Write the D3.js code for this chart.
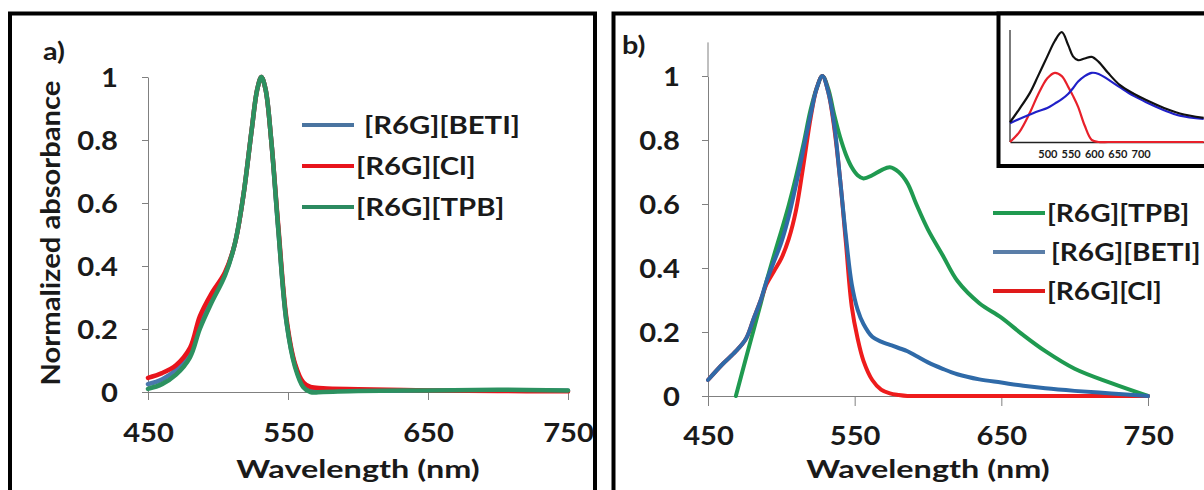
<!DOCTYPE html>
<html>
<head>
<meta charset="utf-8">
<script src="https://cdn.jsdelivr.net/npm/d3@7"></script>
<style>
  body { margin: 0; background: #fff; }
  svg { display: block; }
  text { font-family: Lato, "Open Sans", sans-serif; font-weight: 700; fill: #1a1a1a; }
</style>
</head>
<body>
<script>
// panel a: absorbance of the three salts (almost identical)
var waveA = [450, 460, 470, 480, 487, 495, 505, 512, 518, 524, 528, 531, 534, 538, 543, 549, 555, 561, 566, 575, 600, 650, 700, 750];
var betiA = [0.025, 0.04, 0.07, 0.125, 0.22, 0.295, 0.375, 0.47, 0.62, 0.83, 0.96, 1.0, 0.96, 0.8, 0.52, 0.22, 0.085, 0.02, 0.006, 0.004, 0.004, 0.004, 0.005, 0.004];
var clA   = [0.045, 0.06, 0.085, 0.14, 0.24, 0.31, 0.38, 0.47, 0.62, 0.83, 0.96, 1.0, 0.96, 0.8, 0.53, 0.23, 0.09, 0.03, 0.016, 0.012, 0.009, 0.005, 0.003, 0.002];
var tpbA  = [0.01, 0.025, 0.055, 0.11, 0.2, 0.28, 0.37, 0.47, 0.62, 0.83, 0.96, 1.0, 0.96, 0.8, 0.52, 0.22, 0.08, 0.015, 0.0, 0.0, 0.003, 0.005, 0.007, 0.005];

// panel b
var waveB = [450, 460, 469, 476, 481, 486, 490, 495, 500, 505, 510, 515, 520, 524, 528, 532, 536, 540, 544, 548, 552, 556, 562, 568, 574, 580, 586, 592, 600, 610, 620, 635, 650, 665, 680, 700, 725, 750];
var tpbB  = [null, null, 0.0, 0.12, 0.205, 0.29, 0.36, 0.44, 0.515, 0.595, 0.685, 0.785, 0.895, 0.96, 1.0, 0.96, 0.88, 0.81, 0.755, 0.715, 0.69, 0.68, 0.69, 0.705, 0.715, 0.7, 0.665, 0.6, 0.52, 0.44, 0.36, 0.29, 0.245, 0.19, 0.14, 0.085, 0.04, 0.0];
var betiB = [0.05, 0.1, 0.14, 0.18, 0.24, 0.3, 0.36, 0.42, 0.48, 0.56, 0.66, 0.77, 0.88, 0.96, 1.0, 0.95, 0.85, 0.68, 0.5, 0.35, 0.27, 0.225, 0.185, 0.17, 0.16, 0.15, 0.14, 0.125, 0.105, 0.085, 0.068, 0.052, 0.042, 0.032, 0.024, 0.016, 0.008, 0.0];
var clB   = [0.05, 0.1, 0.14, 0.18, 0.24, 0.3, 0.35, 0.39, 0.43, 0.49, 0.58, 0.72, 0.87, 0.96, 1.0, 0.95, 0.84, 0.68, 0.48, 0.28, 0.18, 0.11, 0.05, 0.02, 0.008, 0.003, 0, 0, 0, 0, 0, 0, 0, 0, 0, 0, 0, 0];

// inset of panel b
var waveIn  = [420, 440, 463, 480, 500, 516, 531, 545, 555, 566, 580, 595, 610, 630, 655, 685, 713, 750, 784, 835];
var blackIn = [0.18, 0.3, 0.45, 0.6, 0.78, 0.92, 1.0, 0.88, 0.78, 0.745, 0.76, 0.775, 0.73, 0.63, 0.52, 0.44, 0.38, 0.31, 0.26, 0.22];
var blueIn  = [0.17, 0.21, 0.25, 0.28, 0.31, 0.35, 0.39, 0.44, 0.49, 0.55, 0.6, 0.63, 0.62, 0.57, 0.5, 0.42, 0.36, 0.29, 0.24, 0.21];
var redIn   = [0.0, 0.09, 0.27, 0.43, 0.58, 0.63, 0.6, 0.5, 0.42, 0.32, 0.15, 0.02, 0, 0, 0, 0, 0, 0, 0, 0];

var xTicks = [450, 550, 650, 750];
var yTicks = [0, 0.2, 0.4, 0.6, 0.8, 1];
var inTicks = [500, 550, 600, 650, 700];

var svg = d3.select("body").append("svg").attr("width", 1204).attr("height", 490);
svg.append("rect").attr("width", 1204).attr("height", 490).attr("fill", "#fff");

function fmt(d) { return d === 0 ? "0" : d === 1 ? "1" : String(d); }

// the source figure is stretched sideways, so widen glyphs a little
function stretch(sel, k) {
  sel.each(function() {
    var w = this.getComputedTextLength();
    d3.select(this).attr("textLength", w * k).attr("lengthAdjust", "spacingAndGlyphs");
  });
  return sel;
}

function drawPanel(o) {
  var x = d3.scaleLinear().domain([450, 750]).range(o.xr);
  var y = d3.scaleLinear().domain([0, o.ymax]).range(o.yr);

  var xa = svg.append("g").attr("transform", "translate(0," + y(0) + ")")
    .call(d3.axisBottom(x).tickValues(xTicks).tickSize(o.xtick).tickSizeOuter(0));
  var ya = svg.append("g").attr("transform", "translate(" + x(450) + ",0)")
    .call(d3.axisLeft(y).tickValues(yTicks).tickFormat(fmt).tickSize(6).tickSizeOuter(0));
  [xa, ya].forEach(function(g) {
    g.select(".domain").attr("stroke", "#808080");
    g.selectAll(".tick line").attr("stroke", "#808080");
    g.selectAll("text").attr("font-size", 26).attr("font-family", null).attr("fill", "#1a1a1a");
  });
  stretch(xa.selectAll("text").attr("y", o.xlab).attr("dy", null), 1.12);
  stretch(ya.selectAll("text").attr("x", o.ylab).attr("dy", "0.36em"), 1.12);

  var line = d3.line()
    .defined(function(d) { return d[1] !== null; })
    .x(function(d) { return x(d[0]); })
    .y(function(d) { return y(d[1]); })
    .curve(d3.curveCatmullRom);

  o.series.forEach(function(s) {
    svg.append("path")
      .datum(o.wave.map(function(w, i) { return [w, s.values[i]]; }))
      .attr("d", line).attr("fill", "none")
      .attr("stroke", s.color).attr("stroke-width", o.lw)
      .attr("stroke-linejoin", "round").attr("stroke-linecap", "round");
  });

  o.legend.forEach(function(s, i) {
    var ly = o.leg.y + i * o.leg.dy;
    svg.append("line").attr("x1", o.leg.x).attr("x2", o.leg.x + 52)
      .attr("y1", ly).attr("y2", ly).attr("stroke", s.color).attr("stroke-width", 4);
    stretch(svg.append("text").attr("x", o.leg.x + 54 + (s.pad || 0)).attr("y", ly).attr("dy", "0.36em")
      .attr("font-size", 24).text(s.name), o.leg.k);
  });

  stretch(svg.append("text").attr("x", (x(450) + x(750)) / 2).attr("y", o.titleY)
    .attr("text-anchor", "middle").attr("font-size", 24).text("Wavelength (nm)"), 1.35);
  stretch(svg.append("text").attr("x", o.tag[0]).attr("y", o.tag[1]).attr("font-size", 24).text(o.tagText), 1.2);
}

// outer frames
svg.append("rect").attr("x", 10).attr("y", 13.5).attr("width", 585).attr("height", 500)
  .attr("fill", "none").attr("stroke", "#000").attr("stroke-width", 4);
svg.append("rect").attr("x", 613.5).attr("y", 13.5).attr("width", 620).attr("height", 500)
  .attr("fill", "none").attr("stroke", "#000").attr("stroke-width", 4);

drawPanel({
  xr: [148, 568], yr: [392, 77], ymax: 1, xtick: 8, xlab: 50, ylab: -30, lw: 4.5,
  wave: waveA,
  series: [
    { values: betiA, color: "#4a78ad" },
    { values: clA, color: "#e8141c" },
    { values: tpbA, color: "#2c9160" }
  ],
  legend: [
    { name: "[R6G][BETI]", color: "#4a74a0", pad: 8 },
    { name: "[R6G][Cl]", color: "#e8141c" },
    { name: "[R6G][TPB]", color: "#2c8a60" }
  ],
  leg: { x: 302, y: 125, dy: 41, k: 1.22 },
  titleY: 478, tag: [43, 60], tagText: "a)"
});

var yTitle = svg.append("text").attr("transform", "translate(60,233) rotate(-90)")
  .attr("text-anchor", "middle").attr("font-size", 27).text("Normalized absorbance");
stretch(yTitle, 1.08);

drawPanel({
  xr: [708, 1148], yr: [396, 76], ymax: 1, xtick: 10, xlab: 49, ylab: -28, lw: 4,
  wave: waveB,
  series: [
    { values: tpbB, color: "#1f9a50" },
    { values: clB, color: "#ee1c1c" },
    { values: betiB, color: "#2f6aa8" }
  ],
  legend: [
    { name: "[R6G][TPB]", color: "#1f9a50" },
    { name: "[R6G][BETI]", color: "#5a7ea8", pad: 4 },
    { name: "[R6G][Cl]", color: "#e01a1a" }
  ],
  leg: { x: 993, y: 213, dy: 39, k: 1.17 },
  titleY: 478, tag: [622, 54], tagText: "b)"
});

// panel b y axis runs a bit above 1
var yB = d3.scaleLinear().domain([0, 1]).range([396, 76]);
svg.append("line").attr("x1", 708).attr("x2", 708).attr("y1", yB(1)).attr("y2", yB(1.105))
  .attr("stroke", "#808080");

// inset
var gi = svg.append("g");
gi.append("rect").attr("x", 998.5).attr("y", 13.5).attr("width", 230).attr("height", 152.5)
  .attr("fill", "#fff").attr("stroke", "#000").attr("stroke-width", 4);
var xi = d3.scaleLinear().domain([420, 840]).range([1010, 1206]);
var yi = d3.scaleLinear().domain([0, 1.02]).range([142, 30]);
gi.append("line").attr("x1", xi(420)).attr("x2", xi(420)).attr("y1", yi(0)).attr("y2", yi(1.02)).attr("stroke", "#222").attr("stroke-width", 1.2);
var xia = gi.append("g").attr("transform", "translate(0," + yi(0) + ")")
  .call(d3.axisBottom(xi).tickValues(inTicks).tickSize(0).tickSizeOuter(0).tickPadding(8));
xia.select(".domain").attr("stroke", "#222").attr("stroke-width", 1.5);
xia.selectAll("text").attr("font-size", 11).attr("font-family", null).attr("font-weight", 400).attr("fill", "#333");
var lineIn = d3.line().x(function(d) { return xi(d[0]); }).y(function(d) { return yi(d[1]); }).curve(d3.curveCatmullRom);
[[redIn, "#e8202a"], [blueIn, "#2020c8"], [blackIn, "#111"]].forEach(function(s) {
  gi.append("path").datum(waveIn.map(function(w, i) { return [w, s[0][i]]; }))
    .attr("d", lineIn).attr("fill", "none").attr("stroke", s[1]).attr("stroke-width", 2.2);
});
</script>
</body>
</html>
